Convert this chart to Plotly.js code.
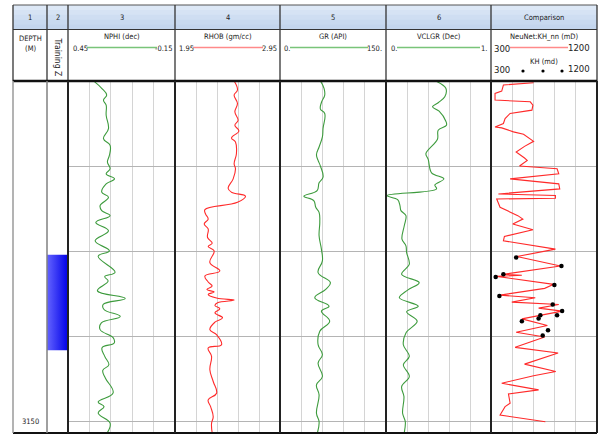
<!DOCTYPE html>
<html><head><meta charset="utf-8">
<script src="https://cdn.plot.ly/plotly-3.0.1.min.js"></script>
<style>html,body{margin:0;padding:0;background:#fff}#chart{width:599px;height:435px}</style>
</head><body><div id="chart"></div>
<script>
// ---------------- DATA ----------------
const trackTitles = ['NPHI (dec)', 'RHOB (gm/cc)', 'GR (API)', 'VCLGR (Dec)', 'NeuNet:KH_nn (mD)'];
const columnNumbers = ['1', '2', '3', '4', '5', '6', 'Comparison'];
const depthTickVals = [3120, 3130, 3140, 3150];
const depthLabelVals = [3150];
const depthLabelText = ['3150'];
const depthRange = [3151.3, 3110];

const nphiRange = [0.45, -0.15];
const rhobRange = [1.95, 2.95];
const grRange = [0, 150];
const vclRange = [0, 1];
const khRange = [300, 1200];

const zoneTop = 3130.4, zoneBase = 3141.6;

const nphiDepth = [3110.08,3110.86,3111.65,3112.24,3112.83,3114.01,3115.58,3116.76,3117.55,3118.73,3119.51,3120.30,3120.89,3121.48,3122.07,3123.05,3123.64,3124.62,3125.21,3125.80,3126.59,3127.57,3128.75,3129.93,3130.56,3132.44,3132.96,3133.47,3134.61,3135.51,3136.22,3136.81,3137.63,3138.38,3139.17,3140.11,3140.74,3141.29,3142.31,3143.29,3143.96,3144.87,3146.60,3147.66,3148.21,3148.96,3150.14,3151.3];
const nphiValue = [0.302,0.261,0.233,0.251,0.236,0.236,0.223,0.251,0.214,0.218,0.229,0.214,0.236,0.189,0.236,0.261,0.223,0.270,0.261,0.214,0.294,0.223,0.298,0.218,0.281,0.186,0.244,0.225,0.285,0.129,0.253,0.248,0.157,0.263,0.270,0.197,0.191,0.259,0.244,0.221,0.255,0.240,0.197,0.281,0.248,0.281,0.214,0.231];

const rhobDepth = [3110.00,3111.06,3111.65,3112.63,3113.62,3114.60,3115.19,3115.86,3116.68,3117.15,3118.53,3119.71,3120.30,3121.48,3122.58,3123.05,3123.52,3124.23,3125.09,3125.60,3126.20,3126.78,3127.36,3128.36,3129.03,3129.42,3129.93,3131.30,3132.29,3132.88,3133.58,3134.06,3134.45,3134.76,3135.04,3135.47,3135.71,3136.02,3136.34,3136.73,3137.20,3137.79,3138.30,3139.17,3139.76,3140.94,3141.33,3142.31,3143.88,3145.26,3146.64,3147.42,3148.21,3149.39,3150.17,3151.27];
const rhobValue = [2.513,2.545,2.513,2.545,2.52,2.551,2.52,2.558,2.488,2.526,2.535,2.513,2.526,2.504,2.456,2.488,2.621,2.545,2.235,2.241,2.266,2.228,2.266,2.26,2.304,2.266,2.323,2.282,2.377,2.235,2.266,2.304,2.254,2.323,2.266,2.346,2.513,2.355,2.33,2.377,2.33,2.403,2.33,2.282,2.346,2.393,2.266,2.298,2.282,2.314,2.346,2.266,2.289,2.314,2.298,2.304];

const grDepth = [3110.00,3110.86,3111.65,3112.52,3113.30,3113.81,3115.58,3116.56,3117.74,3118.65,3119.32,3119.98,3121.28,3121.95,3122.85,3123.52,3124.03,3124.82,3125.41,3126.59,3128.16,3129.73,3131.11,3132.48,3133.66,3134.45,3135.43,3136.42,3137.00,3138.18,3139.36,3140.94,3142.11,3143.10,3144.67,3145.65,3146.83,3148.99,3149.98,3151.27];
const grValue = [57.2,62.3,63.3,58.6,57.2,63.3,60.9,60,55.3,51.6,53.9,57.2,60.9,55.3,52.5,33.8,47.8,50.6,55.3,56.3,55.3,58.6,60,53.9,71.3,64.7,49.2,69.4,58.6,70.3,56.3,53.9,60,53.9,60,51.6,55.3,51.6,55.3,53];

const vclDepth = [3110.00,3110.86,3111.85,3112.52,3113.03,3113.54,3114.72,3115.19,3115.78,3116.84,3118.53,3119.20,3120.77,3121.48,3122.19,3122.66,3123.44,3123.92,3124.62,3125.21,3125.80,3126.98,3128.55,3129.34,3130.12,3131.50,3132.68,3133.66,3134.53,3135.43,3136.42,3137.08,3138.18,3139.56,3140.94,3142.31,3143.29,3144.67,3145.85,3147.03,3148.99,3149.98,3151.27];
const vclValue = [0.475,0.57,0.56,0.5,0.443,0.506,0.57,0.576,0.497,0.49,0.38,0.402,0.434,0.551,0.465,0.481,0.006,0.111,0.133,0.142,0.19,0.174,0.152,0.19,0.196,0.222,0.149,0.316,0.206,0.127,0.307,0.196,0.297,0.19,0.165,0.222,0.165,0.222,0.149,0.171,0.158,0.184,0.174];

const khnnDepth = [3110.20,3110.47,3111.18,3111.45,3112.24,3112.44,3112.83,3113.42,3113.81,3114.40,3114.99,3115.39,3115.50,3115.97,3116.25,3117.08,3117.67,3118.33,3119.04,3119.32,3119.98,3120.30,3120.89,3121.48,3122.07,3122.66,3123.25,3123.44,3123.76,3123.84,3124.82,3125.33,3125.80,3126.20,3126.78,3127.45,3128.24,3128.75,3129.73,3130.60,3131.70,3132.68,3132.80,3132.92,3133.86,3134.33,3135.12,3135.43,3135.94,3136.22,3136.65,3137.00,3137.52,3137.91,3138.69,3139.48,3140.03,3141.25,3141.92,3143.22,3144.08,3144.59,3145.46,3146.24,3146.71,3147.81,3148.21,3149.19,3149.98];
const khnnValue = [661.7,405.4,391.1,334.2,334.2,633.2,656.0,647.5,462.3,419.6,405.4,334.2,391.1,490.8,576.3,661.7,584.8,513.6,584.8,607.6,542.1,861.1,875.3,462.3,875.3,883.8,362.7,846.8,846.8,348.4,376.9,456.6,527.8,570.6,485.1,656.0,413.9,405.4,846.8,519.3,889.5,405.4,562.0,348.4,832.6,755.7,376.9,675.9,476.6,875.3,704.4,903.8,718.7,562.0,778.5,513.6,755.7,505.1,869.6,584.8,849.7,661.7,391.1,704.4,448.1,462.3,419.6,376.9,761.4];

const khDepth = [3130.72,3131.70,3132.68,3133.00,3133.94,3135.24,3136.22,3137.00,3137.48,3137.48,3137.87,3138.18,3139.25,3139.87];
const khValue = [513.6,898,405,340,838,371,824,904,861,719,704,562,784,739];

// ---------------- LAYOUT HELPERS ----------------
const W = 599, H = 435;
const X = p => p / W, Y = p => 1 - p / H;
const colEdges = [13, 47, 68, 175, 280, 386, 491, 597];
const FONT = 'Liberation Sans Narrow, DejaVu Sans Condensed, Liberation Sans, sans-serif';
const GREEN = '#3d9b3d', RED = '#ff2a2a';

function trackAxis(i, range, tick0, dtick) {
  return {domain: [X(colEdges[i]), X(colEdges[i + 1])], range: range, anchor: 'y',
    showticklabels: false, ticks: '', showline: false, zeroline: false,
    showgrid: true, gridcolor: '#d4d4d4', gridwidth: 1, tick0: tick0, dtick: dtick, fixedrange: true};
}

const traces = [
  {x: nphiValue, y: nphiDepth, xaxis: 'x', yaxis: 'y', mode: 'lines', line: {color: GREEN, width: 1.1, shape: 'spline', smoothing: 1.2}},
  {x: rhobValue, y: rhobDepth, xaxis: 'x2', yaxis: 'y', mode: 'lines', line: {color: RED, width: 1.1, shape: 'spline', smoothing: 1.2}},
  {x: grValue, y: grDepth, xaxis: 'x3', yaxis: 'y', mode: 'lines', line: {color: GREEN, width: 1.1, shape: 'spline', smoothing: 1.2}},
  {x: vclValue, y: vclDepth, xaxis: 'x4', yaxis: 'y', mode: 'lines', line: {color: GREEN, width: 1.1, shape: 'spline', smoothing: 1.0}},
  {x: khnnValue, y: khnnDepth, xaxis: 'x5', yaxis: 'y', mode: 'lines', line: {color: RED, width: 1.1}},
  {x: khValue, y: khDepth, xaxis: 'x5', yaxis: 'y', mode: 'markers', marker: {color: '#000', size: 4.5}},
  {x: [0, 1, 1, 0, 0], y: [zoneTop, zoneTop, zoneBase, zoneBase, zoneTop], xaxis: 'x6', yaxis: 'y2', mode: 'lines',
   line: {width: 0}, fill: 'toself', fillcolor: '#2a2aff',
   fillgradient: {type: 'horizontal', colorscale: [[0, '#6464ff'], [1, '#0000e8']]}}
];

const shapes = [];
const line = (x0, y0, x1, y1, color, w) => shapes.push({type: 'line', xref: 'paper', yref: 'paper', x0: X(x0), y0: Y(y0), x1: X(x1), y1: Y(y1), line: {color: color, width: w}, layer: 'above'});
const rect = (x0, y0, x1, y1, fill) => shapes.push({type: 'rect', xref: 'paper', yref: 'paper', x0: X(x0), y0: Y(y0), x1: X(x1), y1: Y(y1), fillcolor: fill, line: {width: 0}, layer: 'below'});

// header band gradient
const bands = ['#dde8f6', '#d6e3f4', '#cfdef2', '#c8d9ef', '#c3d5ed'];
const bandH = (29.5 - 5) / bands.length;
bands.forEach((c, i) => rect(13, 5 + i * bandH, 597, 5 + (i + 1) * bandH + 0.3, c));

// header grid
line(13, 5, 597, 5, '#555', 1);
line(13, 29.5, 597, 29.5, '#333', 1.2);
colEdges.forEach(x => line(x, 5, x, 81, '#333', 1.3));
// data grid borders
line(13, 81, 597, 81, '#111', 2.5);
line(13, 433, 597, 433, '#111', 2);
line(13, 81, 13, 433, '#9a9a9a', 1.5);
line(47, 81, 47, 433, '#808080', 1.5);
colEdges.slice(2).forEach(x => line(x, 81, x, 433, '#222', 2));

// header scale lines
const scaleLines = [[87, 157, '#79c479'], [193, 263, '#ff8a8a'], [290, 368, '#79c479'], [397, 480, '#79c479'], [510, 568, '#ff8a8a']];
scaleLines.forEach(s => line(s[0], 47.5, s[1], 47.5, s[2], 1.3));
// KH legend dots
[523, 543, 562].forEach(cx => shapes.push({type: 'circle', xref: 'paper', yref: 'paper', x0: X(cx - 1.6), x1: X(cx + 1.6), y0: Y(71 + 1.6), y1: Y(71 - 1.6), fillcolor: '#000', line: {width: 0}}));

const ann = [];
const txt = (t, x, y, size, xa, extra) => ann.push(Object.assign({text: t, x: X(x), y: Y(y), xref: 'paper', yref: 'paper', showarrow: false, xanchor: xa || 'center', yanchor: 'middle', font: {family: FONT, size: size, color: '#222'}}, extra || {}));

const colCenters = colEdges.slice(0, -1).map((e, i) => (e + colEdges[i + 1]) / 2);
columnNumbers.forEach((t, i) => txt(t, colCenters[i], 17.5, 7.5));
txt('DEPTH', colCenters[0], 38, 7.5);
txt('(M)', colCenters[0], 48, 7.5);
txt('Training Z', 57.5, 57, 8.5, 'center', {textangle: 90});
trackTitles.forEach((t, i) => txt(t, colCenters[i + 2], 37, 7.5));
txt(String(nphiRange[0]), 71, 48, 7.5, 'left');
txt(String(nphiRange[1]), 174, 48, 7.5, 'right');
txt(rhobRange[0].toFixed(2), 177, 48, 7.5, 'left');
txt(rhobRange[1].toFixed(2), 279, 48, 7.5, 'right');
txt(grRange[0] + '.', 282, 48, 7.5, 'left');
txt(grRange[1] + '.', 384, 48, 7.5, 'right');
txt(vclRange[0] + '.', 389, 48, 7.5, 'left');
txt(vclRange[1] + '.', 489, 48, 7.5, 'right');
txt(String(khRange[0]), 492, 48, 9.5, 'left');
txt(String(khRange[1]), 592, 47.5, 9.5, 'right');
txt('KH (md)', 544, 61.5, 7.5);
txt(String(khRange[0]), 492, 69.5, 9.5, 'left');
txt(String(khRange[1]), 592, 68.5, 9.5, 'right');
depthLabelVals.forEach((d, i) => ann.push({text: depthLabelText[i], x: X(colCenters[0]), y: d, xref: 'paper', yref: 'y', showarrow: false, xanchor: 'center', yanchor: 'middle', font: {family: FONT, size: 7.5, color: '#222'}}));

const layout = {
  width: W, height: H, margin: {l: 0, r: 0, t: 0, b: 0}, paper_bgcolor: '#fff', plot_bgcolor: '#fff', showlegend: false,
  xaxis: trackAxis(2, nphiRange, 0.45, 0.12),
  xaxis2: trackAxis(3, rhobRange, 1.95, 0.2),
  xaxis3: trackAxis(4, grRange, 0, 30),
  xaxis4: trackAxis(5, vclRange, 0, 0.2),
  xaxis5: trackAxis(6, khRange, 300, 180),
  xaxis6: {domain: [X(47), X(68)], range: [0, 1], anchor: 'y2', visible: false, fixedrange: true},
  yaxis: {domain: [Y(433), Y(81)], range: depthRange, tickvals: depthTickVals, showticklabels: false, ticks: '', showgrid: true, gridcolor: '#b4b4b4', gridwidth: 1, zeroline: false, showline: false, fixedrange: true},
  yaxis2: {domain: [Y(433), Y(81)], range: depthRange, anchor: 'x6', visible: false, showgrid: false, fixedrange: true},
  shapes: shapes, annotations: ann
};
Plotly.newPlot('chart', traces, layout, {staticPlot: true, displayModeBar: false});
</script></body></html>
